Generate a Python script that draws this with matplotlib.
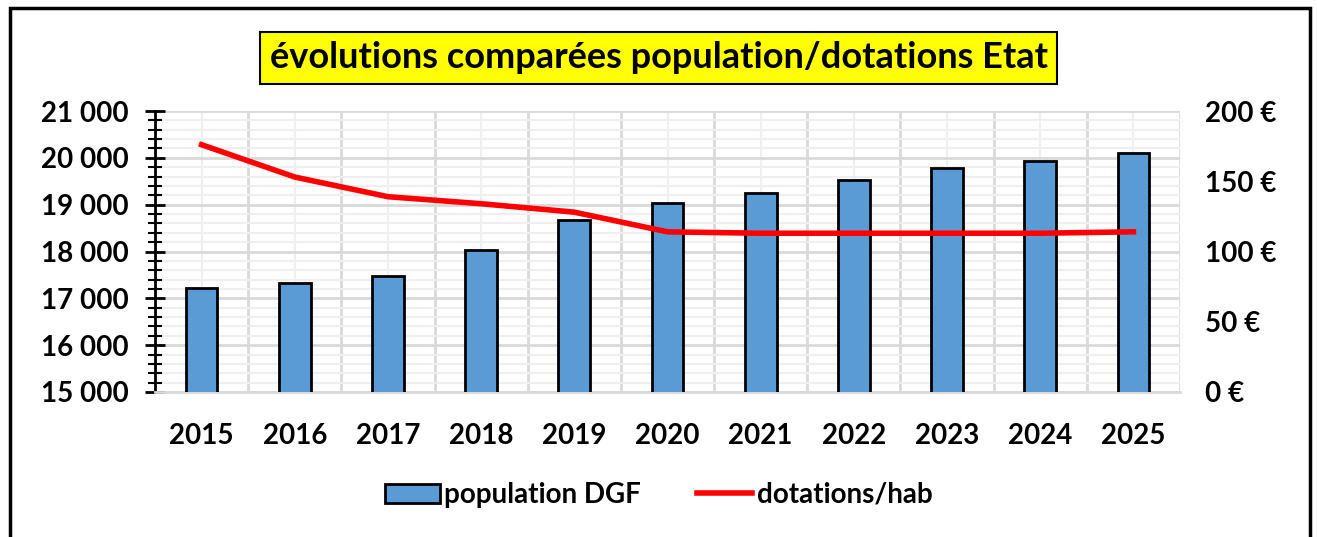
import matplotlib.pyplot as plt
from matplotlib.patches import Patch, Rectangle
from matplotlib.lines import Line2D
from matplotlib.ticker import MultipleLocator, FixedLocator

years = ["2015", "2016", "2017", "2018", "2019", "2020", "2021", "2022", "2023", "2024", "2025"]
population = [17220, 17320, 17480, 18030, 18670, 19030, 19240, 19530, 19790, 19930, 20100]
dotations = [176, 153, 139, 134, 128, 114, 113, 113, 113, 113, 114]

left_ticks = [15000, 16000, 17000, 18000, 19000, 20000, 21000]
right_ticks = [0, 50, 100, 150, 200]

plt.rcParams["font.family"] = ["Lato", "DejaVu Sans"]

fig = plt.figure(figsize=(13.17, 5.37), dpi=100)
ax = fig.add_axes([155 / 1317, 1 - 392 / 537, (1180 - 155) / 1317, (392 - 111) / 537])

x = list(range(len(years)))
ax.bar(x, population, width=0.34, color="#5b9bd5", edgecolor="black", linewidth=2, zorder=3,
       label="population DGF")
ax.set_ylim(15000, 21000)
ax.set_xlim(-0.5, len(years) - 0.5)
ax.set_yticks(left_ticks)
ax.set_yticklabels([f"{v:,}".replace(",", " ") for v in left_ticks])
ax.yaxis.set_minor_locator(MultipleLocator(200))
ax.set_xticks(x)
ax.set_xticklabels(years)
ax.xaxis.set_minor_locator(FixedLocator([i + 0.5 for i in range(-1, len(years))]))

ax.grid(True, which="major", axis="y", color="#d9d9d9", linewidth=2, zorder=0)
ax.grid(True, which="minor", axis="y", color="#efefef", linewidth=1.5, zorder=0)
ax.grid(True, which="minor", axis="x", color="#d9d9d9", linewidth=2, zorder=0)
ax.grid(True, which="major", axis="x", color="#efefef", linewidth=1.5, zorder=0)

for s in ["top", "right"]:
    ax.spines[s].set_visible(False)
ax.spines["bottom"].set_color("#d9d9d9")
ax.spines["bottom"].set_linewidth(2)
ax.spines["left"].set_linewidth(2)

ax.tick_params(axis="y", which="major", direction="inout", length=14, width=2, labelsize=20, pad=12)
ax.tick_params(axis="y", which="minor", direction="inout", length=10, width=1.5)
ax.tick_params(axis="x", which="both", length=0, labelsize=20, pad=22)
for lbl in ax.get_xticklabels() + ax.get_yticklabels():
    lbl.set_fontweight("bold")

ax2 = ax.twinx()
ax2.plot(x, dotations, color="#ff0000", linewidth=4, zorder=4, label="dotations/hab")
ax2.set_ylim(0, 200)
ax2.set_yticks(right_ticks)
ax2.set_yticklabels([f"{v} €" for v in right_ticks])
ax2.tick_params(axis="y", length=0, labelsize=20, pad=18)
for lbl in ax2.get_yticklabels():
    lbl.set_fontweight("bold")
for s in ax2.spines.values():
    s.set_visible(False)

fig.text(0.5, 1 - 58 / 537, "évolutions comparées population/dotations Etat", ha="center", va="center",
         fontsize=26, fontweight="bold",
         bbox=dict(boxstyle="square,pad=0.25", fc="#ffff00", ec="black", lw=1.5))

fig.patches.append(Rectangle((10 / 1317, -0.05), 1300 / 1317, 1.05 - 8 / 537, transform=fig.transFigure,
                             fill=False, ec="black", lw=2.5))

handles = [Patch(facecolor="#5b9bd5", edgecolor="black", linewidth=2, label="population DGF"),
           Line2D([0], [0], color="#ff0000", linewidth=4, label="dotations/hab")]
leg = fig.legend(handles=handles, loc="center", bbox_to_anchor=(0.5, 1 - 495 / 537), ncol=2,
                 frameon=False, fontsize=20, handlelength=2.0, columnspacing=2.0, handletextpad=0.15)
for t in leg.get_texts():
    t.set_fontweight("bold")

fig.savefig("out.png", dpi=100)
